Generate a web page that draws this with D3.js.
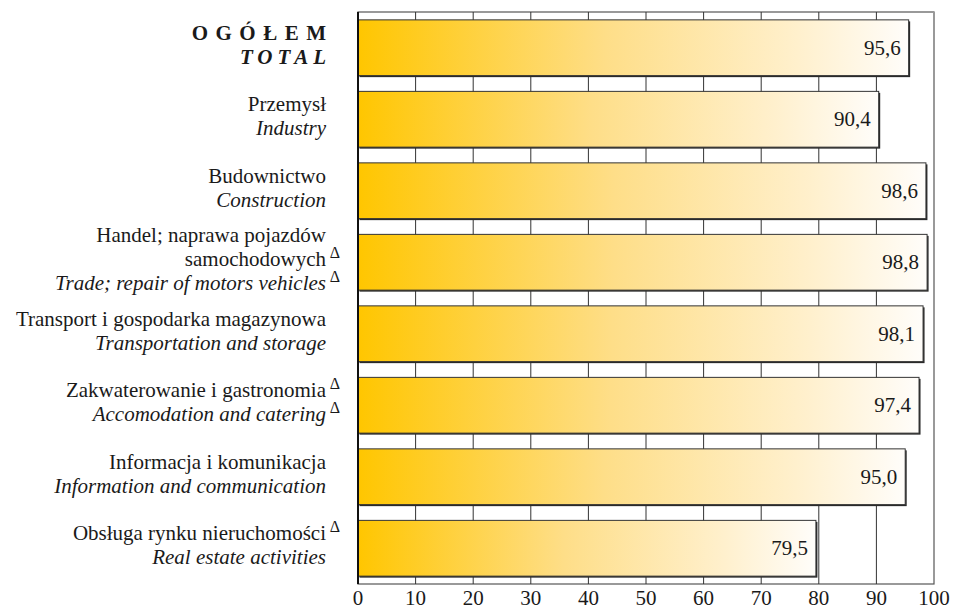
<!DOCTYPE html>
<html>
<head>
<meta charset="utf-8">
<script src="https://cdn.jsdelivr.net/npm/d3@7"></script>
<style>
  body { margin: 0; background: #fff; font-family: 'Liberation Serif', serif; }
</style>
</head>
<body>
<div id="chart"></div>
<script>
let namesPl = [
  ['OGÓŁEM'],
  ['Przemysł'],
  ['Budownictwo'],
  ['Handel; naprawa pojazdów', 'samochodowych'],
  ['Transport i gospodarka magazynowa'],
  ['Zakwaterowanie i gastronomia'],
  ['Informacja i komunikacja'],
  ['Obsługa rynku nieruchomości']
]
let namesEn = [
  'TOTAL',
  'Industry',
  'Construction',
  'Trade; repair of motors vehicles',
  'Transportation and storage',
  'Accomodation and catering',
  'Information and communication',
  'Real estate activities'
]
let values = [95.6, 90.4, 98.6, 98.8, 98.1, 97.4, 95.0, 79.5]
// which lines carry the Δ mark (index of line within the label)
let deltaLines = [[], [], [], [1, 2], [], [0, 1], [], [0]]
let ticks = [0, 10, 20, 30, 40, 50, 60, 70, 80, 90, 100]

let margin = { top: 12, left: 358, right: 23, bottom: 26 }
let width = 957 - margin.left - margin.right
let height = 610 - margin.top - margin.bottom

let svg = d3.select('#chart')
  .append('svg')
  .attr('width', 957)
  .attr('height', 610)
  .attr('font-family', 'Liberation Serif')

let g = svg.append('g')
  .attr('transform', 'translate(' + margin.left + ',' + margin.top + ')')

let x = d3.scaleLinear().domain([0, 100]).range([0, width])
let y = d3.scaleBand().domain(d3.range(values.length)).range([0, height]).paddingInner(0.22).paddingOuter(0.11)

let grad = svg.append('defs').append('linearGradient').attr('id', 'barfill')
grad.append('stop').attr('offset', '0%').attr('stop-color', '#ffc600')
grad.append('stop').attr('offset', '45%').attr('stop-color', '#fede88')
grad.append('stop').attr('offset', '80%').attr('stop-color', '#fff0cd')
grad.append('stop').attr('offset', '100%').attr('stop-color', '#fffdfa')

// frame
g.append('rect')
  .attr('width', width).attr('height', height)
  .attr('fill', 'none').attr('stroke', '#555').attr('stroke-width', 1.2)
g.append('line').attr('x1', 0).attr('x2', width).attr('y1', 0).attr('y2', 0)
  .attr('stroke', '#999').attr('stroke-width', 2)

// grid
g.selectAll('.grid')
  .data(ticks.slice(1, -1))
  .enter()
  .append('line')
  .attr('class', 'grid')
  .attr('x1', d => x(d)).attr('x2', d => x(d))
  .attr('y1', 0).attr('y2', height)
  .attr('stroke', '#333').attr('stroke-width', 1)

// bar shadows
g.selectAll('.shadow')
  .data(values)
  .enter()
  .append('rect')
  .attr('x', 1.5)
  .attr('y', (d, i) => y(i) + 1.5)
  .attr('width', d => x(d))
  .attr('height', y.bandwidth())
  .attr('fill', '#2a2a2a')

g.selectAll('.bar')
  .data(values)
  .enter()
  .append('rect')
  .attr('class', 'bar')
  .attr('x', 0)
  .attr('y', (d, i) => y(i))
  .attr('width', d => x(d))
  .attr('height', y.bandwidth())
  .attr('fill', 'url(#barfill)')
  .attr('stroke', '#333')
  .attr('stroke-width', 1)

g.append('line').attr('x1', 0).attr('x2', 0).attr('y1', 0).attr('y2', height)
  .attr('stroke', '#111').attr('stroke-width', 2)

g.selectAll('.val')
  .data(values)
  .enter()
  .append('text')
  .attr('x', d => x(d) - 8)
  .attr('y', (d, i) => y(i) + y.bandwidth() / 2 + 7)
  .attr('text-anchor', 'end')
  .attr('font-family', d => 'Liberation Serif')
  .attr('font-size', 21)
  .attr('fill', '#1a1a1a')
  .text(d => d.toFixed(1).replace('.', ','))

// x axis labels
g.selectAll('.tick')
  .data(ticks)
  .enter()
  .append('text')
  .attr('x', d => x(d))
  .attr('y', height + 21)
  .attr('text-anchor', 'middle')
  .attr('font-family', d => 'Liberation Serif')
  .attr('font-size', 21)
  .attr('fill', '#1a1a1a')
  .text(d => d)

// category labels
let lineH = 24
namesPl.forEach((pl, i) => {
  let lines = pl.map(t => ({ t: t, it: false })).concat([{ t: namesEn[i], it: true }])
  let c = y(i) + y.bandwidth() / 2
  let start = c - (lines.length - 1) * lineH / 2 - 3
  lines.forEach((l, j) => {
    let ly = start + j * lineH + 7
    let t = g.append('text')
      .attr('x', -32)
      .attr('y', ly)
      .attr('text-anchor', 'end')
      .attr('font-family', 'Liberation Serif')
      .attr('font-size', 21)
      .attr('fill', '#1a1a1a')
      .attr('font-style', l.it ? 'italic' : 'normal')
      .text(l.t)
    if (i === 0) {
      let ls = l.it ? 5 : 7.5
      t.attr('font-weight', 'bold')
        .attr('letter-spacing', ls)
        .attr('x', -32 + ls)
    }
    if (deltaLines[i].indexOf(j) >= 0) {
      g.append('text')
        .attr('x', -23)
        .attr('y', ly - 8)
        .attr('text-anchor', 'middle')
        .attr('font-family', 'Liberation Serif')
        .attr('font-size', 16)
        .attr('fill', '#1a1a1a')
        .text('Δ')
    }
  })
})
</script>
</body>
</html>
